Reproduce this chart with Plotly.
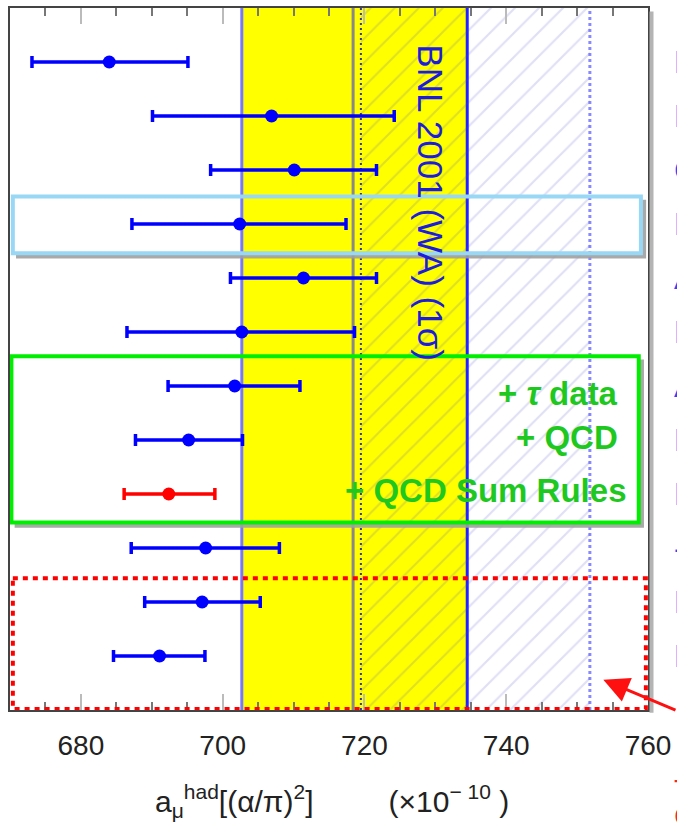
import plotly.graph_objects as go

# ---------------- data ----------------
rows = [1, 2, 3, 4, 5, 6, 7, 8, 9, 10, 11, 12]
centers = [684.0, 706.9, 710.1, 702.4, 711.4, 702.7, 701.7, 695.2, 692.4, 697.6, 697.1, 691.1]
err_low = [673.1, 690.1, 698.3, 687.2, 701.1, 686.5, 692.3, 687.7, 686.1, 687.1, 689.0, 684.6]
err_high = [695.1, 724.2, 721.7, 717.4, 721.7, 718.6, 710.9, 702.8, 698.9, 708.0, 705.3, 697.5]
highlight_row = 9
row_labels = ["DH98", "DH97", "CMD-2", "DEHZ", "AY95", "KNT", "ADH98", "DH98b", "DEHZ03", "-", "HMNT", "DEHZ04"]

bnl_band = [702.7, 734.5]
hatch_band = [719.5, 751.8]
old_line = 718.4

x_ticks = [680, 700, 720, 740, 760]

# ---------------- figure ----------------
FONT = "Liberation Sans, Arial, sans-serif"
fig = go.Figure()

# hatched band
fig.add_trace(go.Scatter(
    x=[hatch_band[0], hatch_band[1], hatch_band[1], hatch_band[0], hatch_band[0]],
    y=[0, 0, 13, 13, 0], mode="lines", fill="toself",
    fillcolor="rgba(0,0,0,0)", line=dict(width=0),
    fillpattern=dict(shape="/", size=17, solidity=0.12, fgcolor="rgba(70,70,200,0.35)"),
    hoverinfo="skip", showlegend=False))

blue_idx = [i for i, r in enumerate(rows) if r != highlight_row]
red_idx = [i for i, r in enumerate(rows) if r == highlight_row]

for idx, col in ((blue_idx, "#0000ff"), (red_idx, "#ff0000")):
    fig.add_trace(go.Scatter(
        x=[centers[i] for i in idx], y=[rows[i] for i in idx], mode="markers",
        marker=dict(color=col, size=13),
        error_x=dict(type="data", symmetric=False,
                     array=[err_high[i] - centers[i] for i in idx],
                     arrayminus=[centers[i] - err_low[i] for i in idx],
                     color=col, thickness=3.5, width=6),
        showlegend=False))

shapes = []
# yellow band
shapes.append(dict(type="rect", xref="x", yref="paper", x0=bnl_band[0], x1=bnl_band[1],
                   y0=0, y1=1, fillcolor="#ffff00", line=dict(width=0), layer="below"))
shapes.append(dict(type="line", xref="x", yref="paper", x0=bnl_band[0], x1=bnl_band[0], y0=0, y1=1,
                   line=dict(color="#7777ff", width=3), layer="below"))
shapes.append(dict(type="line", xref="x", yref="paper", x0=bnl_band[1], x1=bnl_band[1], y0=0, y1=1,
                   line=dict(color="#2222ff", width=3), layer="below"))
shapes.append(dict(type="line", xref="x", yref="paper", x0=old_line, x1=old_line, y0=0, y1=1,
                   line=dict(color="#888888", width=3), layer="below"))
shapes.append(dict(type="line", xref="x", yref="paper", x0=hatch_band[0], x1=hatch_band[0], y0=0, y1=1,
                   line=dict(color="#3333aa", width=2, dash="2px,3px"), layer="below"))
shapes.append(dict(type="line", xref="x", yref="paper", x0=hatch_band[1], x1=hatch_band[1], y0=0, y1=1,
                   line=dict(color="#8888ff", width=3, dash="3px,3px"), layer="below"))

# frame shadow on the right
shapes.append(dict(type="line", xref="paper", yref="paper", x0=1.0055, x1=1.0055, y0=-0.004, y1=0.995,
                   line=dict(color="#b4b4b4", width=4), layer="above"))


def box(x0, x1, y0, y1, color, width, dash="solid", shadow=True):
    dx, dy = 0.45, 0.06
    if shadow:
        shapes.append(dict(type="path", xref="x", yref="y",
                           path=f"M {x1 + dx},{y0 + dy} L {x1 + dx},{y1 + dy} L {x0 + dx},{y1 + dy}",
                           line=dict(color="rgba(160,160,160,0.9)", width=width), layer="above"))
    shapes.append(dict(type="rect", xref="x", yref="y", x0=x0, x1=x1, y0=y0, y1=y1,
                       line=dict(color=color, width=width, dash=dash), layer="above"))


box(670.4, 759.0, 3.49, 4.54, "#99d8f5", 4)
box(670.2, 758.7, 6.45, 9.53, "#00ee00", 4)
box(670.4, 759.7, 10.56, 12.98, "#ff0000", 4, dash="5px,5px", shadow=False)

annotations = []
annotations.append(dict(x=729.4, y=3.6, xref="x", yref="y", text="BNL 2001 (WA) (1σ)",
                        textangle=90, showarrow=False, font=dict(family=FONT, size=35, color="#1c1cdd")))
green = "#1ec81e"
for txt, yy, xx in (("+ <i>τ</i> data", 7.13, 756.1), ("+ QCD", 7.96, 756.0), ("+ QCD Sum Rules", 8.94, 757.2)):
    annotations.append(dict(x=xx, y=yy, xref="x", yref="y", text=txt, xanchor="right", showarrow=False,
                            font=dict(family=FONT, size=33, color=green, weight="bold")))
for r, lab in zip(rows, row_labels):
    annotations.append(dict(x=1.037, y=r, xref="paper", yref="y", text=lab, xanchor="left",
                            showarrow=False, font=dict(family=FONT, size=32, color="#3c3cff")))
# arrow
annotations.append(dict(x=753.7, y=12.44, xref="x", yref="y", ax=100, ay=31, text="",
                        showarrow=True, arrowhead=2, arrowsize=1.7, arrowwidth=3, arrowcolor="#ff1010",
                        standoff=0))
annotations.append(dict(x=1.037, y=-0.14, xref="paper", yref="paper", text="T", xanchor="left",
                        showarrow=False, font=dict(family=FONT, size=30, color="#ff2020")))
annotations.append(dict(x=1.037, y=-0.176, xref="paper", yref="paper", text="C", xanchor="left",
                        showarrow=False, font=dict(family=FONT, size=30, color="#ff2020")))
# axis title
NB = "\u00a0"
annotations.append(dict(x=0.505, y=-0.163, xref="paper", yref="paper",
                        text="a<sub>μ</sub><sup>had</sup>[(α/π)<sup>2</sup>]" + NB * 9
                             + "(×10<sup>−" + NB + "10</sup>" + NB + ")",
                        showarrow=False, font=dict(family=FONT, size=30, color="#222222")))

fig.update_layout(
    width=677, height=826,
    margin=dict(l=10, r=25, t=6, b=116),
    paper_bgcolor="white", plot_bgcolor="white",
    shapes=shapes, annotations=annotations,
    font=dict(family=FONT),
    xaxis=dict(range=[670, 760], tickvals=x_ticks, ticktext=[str(v) for v in x_ticks],
               ticks="inside", ticklen=16, tickwidth=2, tickcolor="#bbbbbb",
               minor=dict(ticks="inside", ticklen=8, tickwidth=1.5, tickcolor="#777777", dtick=5, tick0=670),
               showline=True, linecolor="#444444", linewidth=2, mirror="ticks",
               showgrid=False, zeroline=False,
               tickfont=dict(family=FONT, size=28, color="#222222"), ticklabelstandoff=9),
    yaxis=dict(range=[13, 0], showticklabels=False, ticks="", showline=True, linecolor="#444444",
               linewidth=2, mirror=True, showgrid=False, zeroline=False),
)

fig.write_html("out.html")
